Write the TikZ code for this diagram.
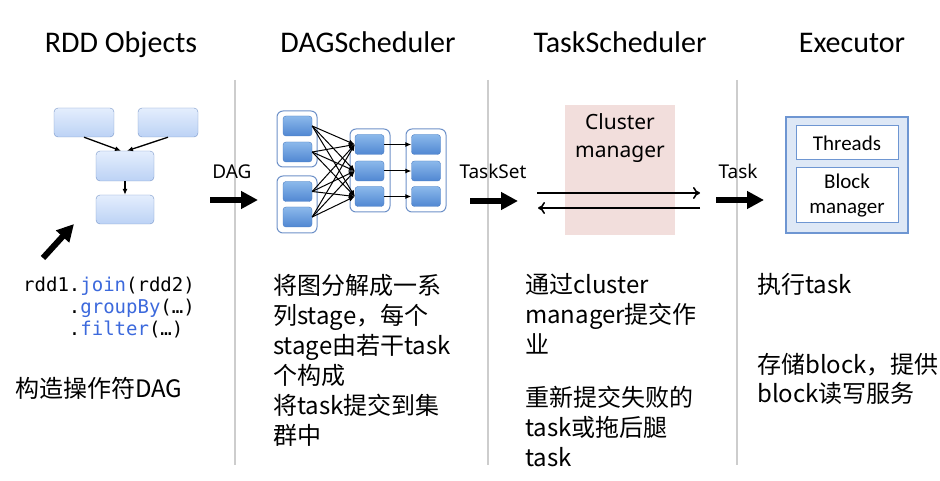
\documentclass[tikz,border=0pt]{standalone}
\usepackage{fontspec}
\setmainfont{Noto Sans}
\setmonofont{DejaVu Sans Mono}
\newfontfamily\cjk{Noto Sans CJK SC}
\newfontfamily\calibri{Carlito}
\usetikzlibrary{arrows.meta,positioning}

\definecolor{sepgray}{RGB}{205,205,205}
\definecolor{rddline}{RGB}{120,150,200}
\definecolor{rddtop}{RGB}{228,238,253}
\definecolor{rddbot}{RGB}{188,210,245}
\definecolor{taskline}{RGB}{75,125,195}
\definecolor{tasktop}{RGB}{140,185,235}
\definecolor{taskbot}{RGB}{80,135,210}
\definecolor{stageline}{RGB}{110,145,200}
\definecolor{clusterpink}{RGB}{242,222,220}
\definecolor{codeblue}{RGB}{60,105,220}
\definecolor{execline}{RGB}{110,150,210}
\definecolor{execfill}{RGB}{222,232,246}

\tikzset{
  title/.style={font=\calibri\fontsize{30}{34}\selectfont,anchor=base},
  flowlabel/.style={font=\fontsize{19}{23}\selectfont,anchor=base},
  para/.style={font=\cjk\fontsize{24}{30}\selectfont,align=left,anchor=base west,inner sep=0pt},
  rddbox/.style={rectangle,rounded corners=4pt,draw=rddline,top color=rddtop,bottom color=rddbot,
    minimum width=60pt,minimum height=29pt,inner sep=0pt},
  stagebox/.style={rectangle,rounded corners=6pt,draw=stageline,fill=white,line width=1pt,
    minimum width=40pt,inner sep=0pt},
  taskbox/.style={rectangle,rounded corners=3pt,draw=taskline,top color=tasktop,bottom color=taskbot,
    minimum width=29pt,minimum height=20pt,inner sep=0pt},
  smallarrow/.style={-{Latex[length=6pt,width=5pt]},line width=1.3pt},
  bigarrow/.style={-{Triangle[length=17pt,width=17pt]},line width=6pt},
  sepline/.style={draw=sepgray,line width=2.5pt},
}

\begin{document}
\begin{tikzpicture}[x=1pt,y=-1pt]
  \useasboundingbox (0,0) rectangle (940,481);

  % column titles
  \node (t_rdd) at (121,53) [title] {RDD Objects};
  \node (t_dag) at (368,53) [title] {DAGScheduler};
  \node (t_task) at (620,53) [title] {TaskScheduler};
  \node (t_exec) at (852,53) [title] {Executor};

  % separators
  \draw[sepline] (235,80) -- (235,465);
  \draw[sepline] (488,80) -- (488,465);
  \draw[sepline] (737,80) -- (737,465);

  % RDD objects
  \node (rddA) at (84,122.5) [rddbox] {};
  \node (rddB) at (168,122.5) [rddbox] {};
  \node (rddC) at (125,166) [rddbox,minimum width=58pt,minimum height=30pt] {};
  \node (rddD) at (125,209.5) [rddbox,minimum width=58pt] {};
  \draw[smallarrow] (rddA.south) -- ([xshift=-4pt]rddC.north);
  \draw[smallarrow] (rddB.south) -- ([xshift=2pt]rddC.north);
  \draw[smallarrow] (rddC) -- (rddD);

  \coordinate (codetail) at (43,258);
  \coordinate (codehead) at (74,224);
  \draw[bigarrow] (codetail) -- (codehead);

  \node (code) at (23,335) [anchor=base west,inner sep=0pt,align=left,
    font=\ttfamily\fontsize{19}{22}\selectfont]
    {rdd1.\textcolor{codeblue}{join}(rdd2)\\
     \phantom{rdd1}.\textcolor{codeblue}{groupBy}(…)\\
     \phantom{rdd1}.\textcolor{codeblue}{filter}(…)};
  \node (rddtext) at (15,397) [para] {构造操作符DAG};

  % DAG -> DAGScheduler
  \node (daglabel) at (232,179) [flowlabel] {DAG};
  \coordinate (dagtail) at (210,200);
  \coordinate (daghead) at (258,200);
  \draw[bigarrow] (dagtail) -- (daghead);

  % stages
  \node (stage1) at (297,139) [stagebox,minimum height=56pt] {};
  \node (stage2) at (297,204.5) [stagebox,minimum height=57pt] {};
  \node (stage3) at (370,170.5) [stagebox,minimum height=83pt] {};
  \node (stage4) at (426,170.5) [stagebox,minimum height=83pt] {};
  \node (t1) at (297.5,126) [taskbox] {};
  \node (t2) at (297.5,152) [taskbox] {};
  \node (t3) at (297.5,191.5) [taskbox] {};
  \node (t4) at (297.5,217) [taskbox] {};
  \node (m1) at (369.5,144.5) [taskbox] {};
  \node (m2) at (369.5,171) [taskbox] {};
  \node (m3) at (369.5,196.5) [taskbox] {};
  \node (r1) at (426,144.5) [taskbox] {};
  \node (r2) at (426,171) [taskbox] {};
  \node (r3) at (426,196.5) [taskbox] {};
  \foreach \a in {t1,t2,t3,t4}
    \foreach \b in {m1,m2,m3}
      \draw[smallarrow,line width=1pt] (\a.east) -- (\b.west);
  \foreach \i in {1,2,3}
    \draw[smallarrow,line width=1pt] (m\i.east) -- (r\i.west);

  \node (dagtext) at (273,444) [para]
    {将图分解成一系\\列stage，每个\\stage由若干task\\个构成\\将task提交到集\\群中};

  % TaskSet -> TaskScheduler
  \node (tslabel) at (493,179) [flowlabel] {TaskSet};
  \coordinate (tstail) at (470,201);
  \coordinate (tshead) at (518,201);
  \draw[bigarrow] (tstail) -- (tshead);

  \node (cluster) at (620,170) [rectangle,fill=clusterpink,minimum width=110pt,minimum height=130pt] {};
  \node (clustertext) at (620,158) [anchor=base,align=center,font=\fontsize{21}{28}\selectfont]
    {Cluster\\manager};
  \coordinate (sendL) at (537,193);
  \coordinate (sendR) at (700,193);
  \coordinate (backR) at (700,208);
  \coordinate (backL) at (538,208);
  \draw[-{To[length=7pt,width=12pt]},line width=1.6pt] (sendL) -- (sendR);
  \draw[-{To[length=7pt,width=12pt]},line width=1.6pt] (backR) -- (backL);

  \node (tasktext1) at (525,353) [para] {通过cluster\\manager提交作\\业};
  \node (tasktext2) at (525,466) [para] {重新提交失败的\\task或拖后腿\\task};

  % Task -> Executor
  \node (tasklabel) at (738,179) [flowlabel] {Task};
  \coordinate (tktail) at (716,200);
  \coordinate (tkhead) at (764,200);
  \draw[bigarrow] (tktail) -- (tkhead);

  \node (exec) at (847,175) [rectangle,draw=execline,line width=2.5pt,fill=execfill,
    minimum width=122pt,minimum height=116pt] {};
  \node (threads) at (847,143) [rectangle,draw=execline,line width=1pt,fill=white,
    minimum width=102pt,minimum height=34pt,font=\calibri\fontsize{21}{25}\selectfont] {Threads};
  \node (block) at (847,195.5) [rectangle,draw=execline,line width=1pt,fill=white,
    minimum width=102pt,minimum height=55pt,align=center,font=\calibri\fontsize{21}{25}\selectfont]
    {Block\\manager};

  \node (exectext1) at (757,294) [para] {执行task};
  \node (exectext2) at (757,402) [para,font=\cjk\fontsize{24}{29}\selectfont] {存储block，提供\\block读写服务};
\end{tikzpicture}
\end{document}
